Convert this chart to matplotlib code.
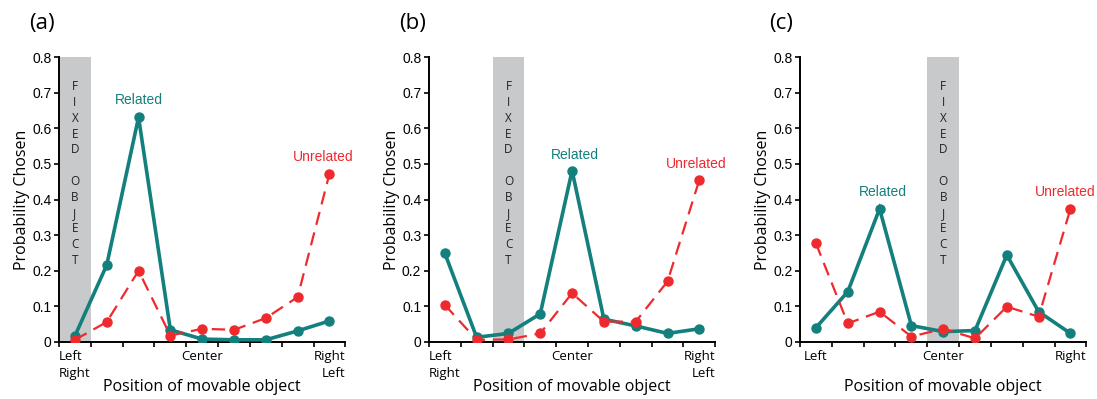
import matplotlib.pyplot as plt
import numpy as np

# posisi objek bergerak (9 posisi) dan data tiap panel
positions = np.arange(9)
panel_names = ['(a)', '(b)', '(c)']
fixed_pos = [0, 2, 4]

related_a = [0.017, 0.216, 0.631, 0.034, 0.008, 0.006, 0.006, 0.031, 0.059]
unrelated_a = [0.006, 0.056, 0.200, 0.018, 0.037, 0.034, 0.067, 0.126, 0.472]
related_b = [0.249, 0.013, 0.024, 0.079, 0.481, 0.064, 0.045, 0.024, 0.037]
unrelated_b = [0.104, 0.006, 0.007, 0.024, 0.137, 0.057, 0.057, 0.170, 0.455]
related_c = [0.040, 0.141, 0.374, 0.046, 0.029, 0.032, 0.244, 0.085, 0.024]
unrelated_c = [0.277, 0.052, 0.085, 0.015, 0.037, 0.010, 0.099, 0.071, 0.374]

xlabels_a = ['Left\nRight', 'Center', 'Right\nLeft']
xlabels_c = ['Left', 'Center', 'Right']

related_label_xy = [(2.0, 0.68), (4.1, 0.525), (2.1, 0.42)]
unrelated_label_xy = [(7.8, 0.52), (7.9, 0.50), (7.85, 0.42)]

teal = '#13807d'
red = '#ee2a2e'
gray = '#c8c9cb'
label_font = 'Open Sans'
tick_font = 'Liberation Sans'

fig = plt.figure(figsize=(10.97, 3.99), dpi=100)
lefts = [0.0538, 0.391, 0.7293]
label_x = [0.027, 0.364, 0.701]

related_all = [related_a, related_b, related_c]
unrelated_all = [unrelated_a, unrelated_b, unrelated_c]
xlabels_all = [xlabels_a, xlabels_a, xlabels_c]

for i in range(3):
    ax = fig.add_axes([lefts[i], 0.143, 0.261, 0.714])
    fp = fixed_pos[i]
    ax.axvspan(fp - 0.5, fp + 0.5, color=gray, lw=0, zorder=0)
    ax.text(fp, 0.735, 'F\nI\nX\nE\nD\n\nO\nB\nJ\nE\nC\nT', ha='center', va='top',
            fontsize=8.5, family=label_font, linespacing=1.28, color='#222222')

    ax.plot(positions, related_all[i], color=teal, lw=2.6, marker='o', ms=6.5,
            solid_joinstyle='miter', zorder=3)
    ax.plot(positions, unrelated_all[i], color=red, lw=1.6, ls=(0, (6, 3.5)),
            marker='o', ms=6.5, zorder=4)

    rx, ry = related_label_xy[i]
    ax.text(rx, ry, 'Related', color=teal, ha='center', va='center',
            fontsize=10, family='Liberation Sans')
    ux, uy = unrelated_label_xy[i]
    ax.text(ux, uy, 'Unrelated', color=red, ha='center', va='center',
            fontsize=10, family='Liberation Sans')

    ax.set_xlim(-0.5, 8.5)
    ax.set_ylim(0, 0.8)
    ax.set_yticks(np.arange(0, 0.81, 0.1))
    ax.set_yticklabels(['0'] + [f'{v:.1f}' for v in np.arange(0.1, 0.81, 0.1)],
                       family=tick_font, fontsize=10)
    ax.set_xticks(np.arange(-0.5, 8.6, 1.0))
    ax.set_xticklabels([])
    ax.set_xticks([0, 4, 8], minor=True)
    ax.set_xticklabels(xlabels_all[i], minor=True, family=label_font, fontsize=9.5,
                       linespacing=1.4)
    labs = ax.get_xticklabels(minor=True)
    labs[0].set_multialignment('left')
    labs[2].set_multialignment('right')
    ax.tick_params(which='minor', length=0, pad=6)
    ax.tick_params(which='major', direction='out', length=3.5, width=1.2)
    ax.tick_params(axis='y', pad=2)

    for s in ['top', 'right']:
        ax.spines[s].set_visible(False)
    for s in ['left', 'bottom']:
        ax.spines[s].set_linewidth(1.4)

    ax.set_ylabel('Probability Chosen', family=label_font, fontsize=11.5)
    ax.yaxis.set_label_coords(-0.10, 0.5)
    ax.set_xlabel('Position of movable object', family=label_font, fontsize=11.5)
    ax.xaxis.set_label_coords(0.5, -0.13)

    fig.text(label_x[i], 0.968, panel_names[i], ha='left', va='top',
             fontsize=16, family=label_font)

fig.savefig('out.png', dpi=100)
